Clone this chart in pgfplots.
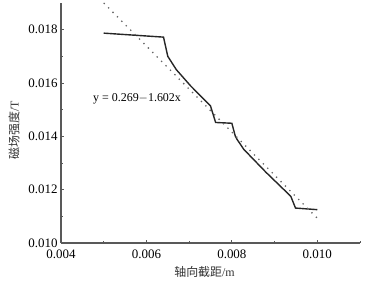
\documentclass[border=0pt]{standalone}
\usepackage{pgfplots}
\pgfplotsset{compat=1.18}
\usepackage{fontspec}
\setmainfont{Liberation Serif}
\newfontfamily\cjk{Noto Sans CJK SC}
\begin{document}
\begin{tikzpicture}
\begin{axis}[
  scale only axis,
  width=299bp, height=240bp,
  xmin=0.004, xmax=0.011,
  ymin=0.010, ymax=0.019,
  scaled ticks=false,
  axis x line*=bottom, axis y line*=left,
  axis line style={-, line width=1.2pt, draw=black!65},
  xtick={0.004,0.006,0.008,0.010},
  xticklabels={0.004,0.006,0.008,0.010},
  ytick={0.010,0.012,0.014,0.016,0.018},
  yticklabels={0.010,0.012,0.014,0.016,0.018},
  minor xtick={0.005,0.007,0.009,0.011},
  minor ytick={0.011,0.013,0.015,0.017},
  tick align=inside,
  major tick length=3pt, minor tick length=2pt,
  tick style={line width=0.8pt, draw=black!65},
  tick label style={font=\fontsize{13}{15}\selectfont},
  xticklabel style={yshift=-3pt},
  /pgf/number format/assume math mode=true,
  xlabel={\cjk 轴向截距\rmfamily/m},
  ylabel={\cjk 磁场强度\rmfamily/T},
  label style={font=\fontsize{12}{14}\selectfont, black!80},
  xlabel style={at={(axis description cs:0.48,0)}, yshift=-20bp, anchor=north},
  ylabel style={at={(axis description cs:0,0.47)}, yshift=47bp, anchor=center},
  clip=false,
]
\addplot[line width=1.4pt, black!85] coordinates {
 (0.00500,0.01787) (0.00640,0.01772) (0.00650,0.01700) (0.00670,0.01650)
 (0.00703,0.01590) (0.00750,0.01514) (0.00762,0.01452) (0.00800,0.01449)
 (0.00808,0.01401) (0.00812,0.01389) (0.00828,0.01351) (0.00880,0.01265)
 (0.00938,0.01175) (0.00949,0.01131) (0.01000,0.01125)
};
\addplot[line width=1.3pt, black!60, dash pattern=on 1.3pt off 5pt] coordinates {
 (0.00500,0.01900) (0.01000,0.01093)
};
\node[font=\fontsize{12}{14}\selectfont] at (axis cs:0.00578,0.01540) {y = 0.269$-$1.602x};
\end{axis}
\pgfresetboundingbox
\path ([shift={(-61bp,-40bp)}]current axis.south west) rectangle ([shift={(18bp,3bp)}]current axis.north east);
\end{tikzpicture}
\end{document}
